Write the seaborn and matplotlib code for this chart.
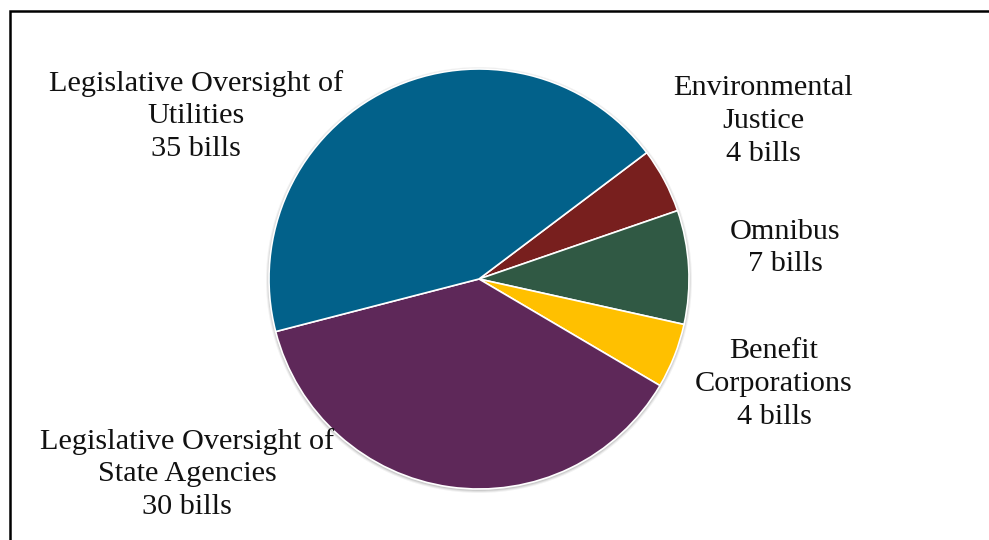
import matplotlib
matplotlib.use("Agg")
import matplotlib.pyplot as plt
import seaborn as sns
from matplotlib.patches import Circle

categories = ["Environmental\nJustice", "Omnibus", "Benefit\nCorporations",
              "Legislative Oversight of\nState Agencies", "Legislative Oversight of\nUtilities"]
bills = [4, 7, 4, 30, 35]
colors_hex = ["#781F1E", "#305944", "#FFC000", "#5E2859", "#02618A"]

sns.set_theme(style="white")
plt.rcParams['font.family'] = ['Liberation Serif', 'DejaVu Serif']

W, H = 989, 540
fig = plt.figure(figsize=(W / 100, H / 100), dpi=100)
ax = fig.add_axes([0, 0, 1, 1])
ax.set_xlim(0, W)
ax.set_ylim(0, H)
ax.set_aspect('equal')
ax.axis('off')

cx, cy, r = 479, H - 279, 210
palette = sns.color_palette(colors_hex)

# soft shadow
for i, a in enumerate([0.05, 0.07, 0.09]):
    ax.add_patch(Circle((cx, cy - 1), r + 3 - i, color='black', alpha=a, lw=0, zorder=0))

ax.pie(bills, colors=palette, startangle=37, counterclock=False, center=(cx, cy),
       radius=r, wedgeprops=dict(edgecolor='white', linewidth=1.2), frame=True)
ax.set_xlim(0, W)
ax.set_ylim(0, H)
ax.axis('off')

label_pos = [(763, 121), (785, 248), (774, 384), (187, 474), (196, 116)]
for cat, n, (x, y) in zip(categories, bills, label_pos):
    ax.text(x, H - y, f"{cat}\n{n} bills", ha='center', va='center', fontsize=21.8,
            linespacing=1.33, color='#111111')

# border (left and top visible)
ax.plot([9.5, 9.5, W + 5], [-5, H - 11, H - 11], color='black', lw=1.8,
        solid_joinstyle='miter', clip_on=False)

fig.savefig("out.png", dpi=100)
